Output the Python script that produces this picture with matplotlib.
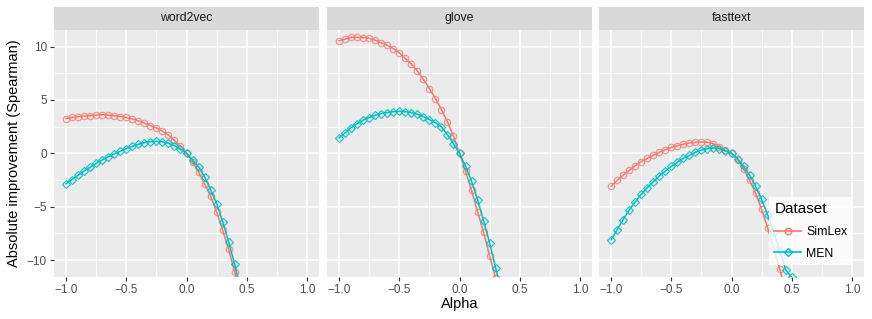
import numpy as np
import matplotlib
matplotlib.use("Agg")
import matplotlib.pyplot as plt
from matplotlib.lines import Line2D
from matplotlib.ticker import MultipleLocator

plt.rcParams['font.family'] = ['Liberation Sans', 'DejaVu Sans']

models = ["word2vec", "glove", "fasttext"]
alpha = [round(-1 + 0.05 * i, 2) for i in range(31)]  # -1.0 .. 0.5

simlex = {
    "word2vec": [3.26, 3.36, 3.43, 3.49, 3.53, 3.58, 3.62, 3.58, 3.52, 3.45,
                 3.36, 3.22, 3.05, 2.84, 2.60, 2.38, 2.08, 1.72, 1.22, 0.65,
                 0.00, -0.80, -1.75, -2.85, -4.00, -5.50, -7.20, -9.00, -11.10, -13.4, -15.9],
    "glove": [10.54, 10.70, 10.86, 10.86, 10.83, 10.77, 10.60, 10.36, 10.14, 9.80,
              9.42, 8.89, 8.36, 7.73, 6.92, 6.07, 5.13, 4.10, 2.94, 1.60,
              0.00, -1.69, -3.47, -5.45, -7.40, -9.60, -11.70, -14.0, -16.5, -19.0, -21.6],
    "fasttext": [-3.07, -2.54, -2.04, -1.60, -1.16, -0.78, -0.47, -0.19, 0.09, 0.34,
                 0.56, 0.72, 0.85, 0.97, 1.03, 1.06, 1.03, 0.91, 0.59, 0.28,
                 0.00, -0.60, -1.44, -2.54, -3.73, -5.23, -6.98, -8.92, -10.80, -13.0, -15.3],
}
men = {
    "word2vec": [-2.85, -2.45, -2.05, -1.65, -1.30, -0.95, -0.62, -0.32, -0.05, 0.20,
                 0.45, 0.65, 0.85, 1.00, 1.10, 1.12, 1.08, 0.95, 0.72, 0.40,
                 0.00, -0.60, -1.25, -2.20, -3.40, -4.70, -6.40, -8.30, -10.40, -12.8, -15.3],
    "glove": [1.44, 1.90, 2.41, 2.79, 3.10, 3.35, 3.57, 3.72, 3.82, 3.90,
              3.94, 3.90, 3.82, 3.66, 3.44, 3.16, 2.88, 2.47, 1.75, 0.90,
              0.00, -1.20, -2.60, -4.35, -6.30, -8.40, -10.70, -13.2, -15.8, -18.5, -21.3],
    "fasttext": [-8.10, -7.17, -6.20, -5.32, -4.54, -3.85, -3.22, -2.66, -2.13, -1.66,
                 -1.22, -0.85, -0.47, -0.19, 0.09, 0.31, 0.44, 0.50, 0.44, 0.22,
                 0.00, -0.50, -1.20, -2.04, -3.07, -4.32, -5.76, -7.35, -9.10, -10.90, -11.60],
}

RED = "#F8766D"
TEAL = "#00BFC4"
BG = "#EBEBEB"
STRIP = "#D9D9D9"
TXT = "#4D4D4D"

fig = plt.figure(figsize=(8.72, 3.19), dpi=100)
W, H = 872.0, 319.0
lefts = [54, 327, 599]
pw = 265
ax_bottom, ax_top, strip_top = 276.7, 30.0, 6.7

for i, m in enumerate(models):
    ax = fig.add_axes([lefts[i] / W, 1 - ax_bottom / H, pw / W, (ax_bottom - ax_top) / H])
    ax.set_facecolor(BG)
    ax.set_xlim(-1.1, 1.1)
    ax.set_ylim(-11.55, 11.55)
    ax.xaxis.set_major_locator(MultipleLocator(0.5))
    ax.xaxis.set_minor_locator(MultipleLocator(0.25))
    ax.yaxis.set_major_locator(MultipleLocator(5))
    ax.yaxis.set_minor_locator(MultipleLocator(2.5))
    ax.grid(which="major", color="white", linewidth=1.1)
    ax.grid(which="minor", color="white", linewidth=0.55)
    ax.set_axisbelow(True)
    for s in ax.spines.values():
        s.set_visible(False)
    ax.tick_params(which="minor", length=0)
    ax.tick_params(which="major", length=3, color="#333333", width=0.8,
                   labelsize=8.5, labelcolor=TXT, pad=2)
    ax.xaxis.set_major_formatter(matplotlib.ticker.FuncFormatter(
        lambda v, p: ("%.1f" % v).replace("-", "\u2212")))
    if i == 0:
        ax.yaxis.set_major_formatter(matplotlib.ticker.FuncFormatter(
            lambda v, p: ("%d" % v).replace("-", "\u2212")))
    else:
        ax.tick_params(axis="y", which="both", left=False, labelleft=False)

    ax.plot(alpha, simlex[m], color=RED, linewidth=1.1, zorder=3)
    ax.plot(alpha, simlex[m], linestyle="none", marker="o", markersize=4.6,
            markerfacecolor="none", markeredgecolor=RED, markeredgewidth=0.9,
            alpha=0.75, zorder=3)
    ax.plot(alpha, men[m], color=TEAL, linewidth=1.1, zorder=4)
    ax.plot(alpha, men[m], linestyle="none", marker="D", markersize=4.3,
            markerfacecolor="none", markeredgecolor=TEAL, markeredgewidth=0.9,
            alpha=0.85, zorder=4)

    sax = fig.add_axes([lefts[i] / W, 1 - ax_top / H, pw / W, (ax_top - strip_top) / H])
    sax.set_facecolor(STRIP)
    sax.set_xticks([]); sax.set_yticks([])
    for s in sax.spines.values():
        s.set_visible(False)
    sax.text(0.5, 0.5, m, ha="center", va="center", fontsize=8.8, color="#1A1A1A",
             transform=sax.transAxes)

    if i == 2:
        handles = [
            Line2D([0], [0], color=RED, lw=1.2, marker="o", markersize=4.6,
                   markerfacecolor="none", markeredgecolor=RED),
            Line2D([0], [0], color=TEAL, lw=1.2, marker="D", markersize=4.3,
                   markerfacecolor="none", markeredgecolor=TEAL),
        ]
        leg = ax.legend(handles, ["SimLex", "MEN"], title="Dataset",
                        loc="lower right", bbox_to_anchor=(0.958, 0.047),
                        borderaxespad=0.0,
                        frameon=True, fancybox=False, fontsize=8.8,
                        title_fontsize=11, handlelength=2.2,
                        borderpad=0.45, labelspacing=0.8, handletextpad=0.4)
        leg.get_frame().set_facecolor("white")
        leg.get_frame().set_edgecolor("white")
        leg.get_frame().set_linewidth(0)
        leg._legend_box.align = "left"

fig.text((lefts[1] + pw / 2) / W, 1 - 304 / H, "Alpha", ha="center", va="center",
         fontsize=10.5, color="black")
fig.text(14 / W, 1 - 153 / H, "Absolute improvement (Spearman)", ha="center",
         va="center", rotation=90, fontsize=10.5, color="black")

fig.savefig("out.png", dpi=100, facecolor="white")
